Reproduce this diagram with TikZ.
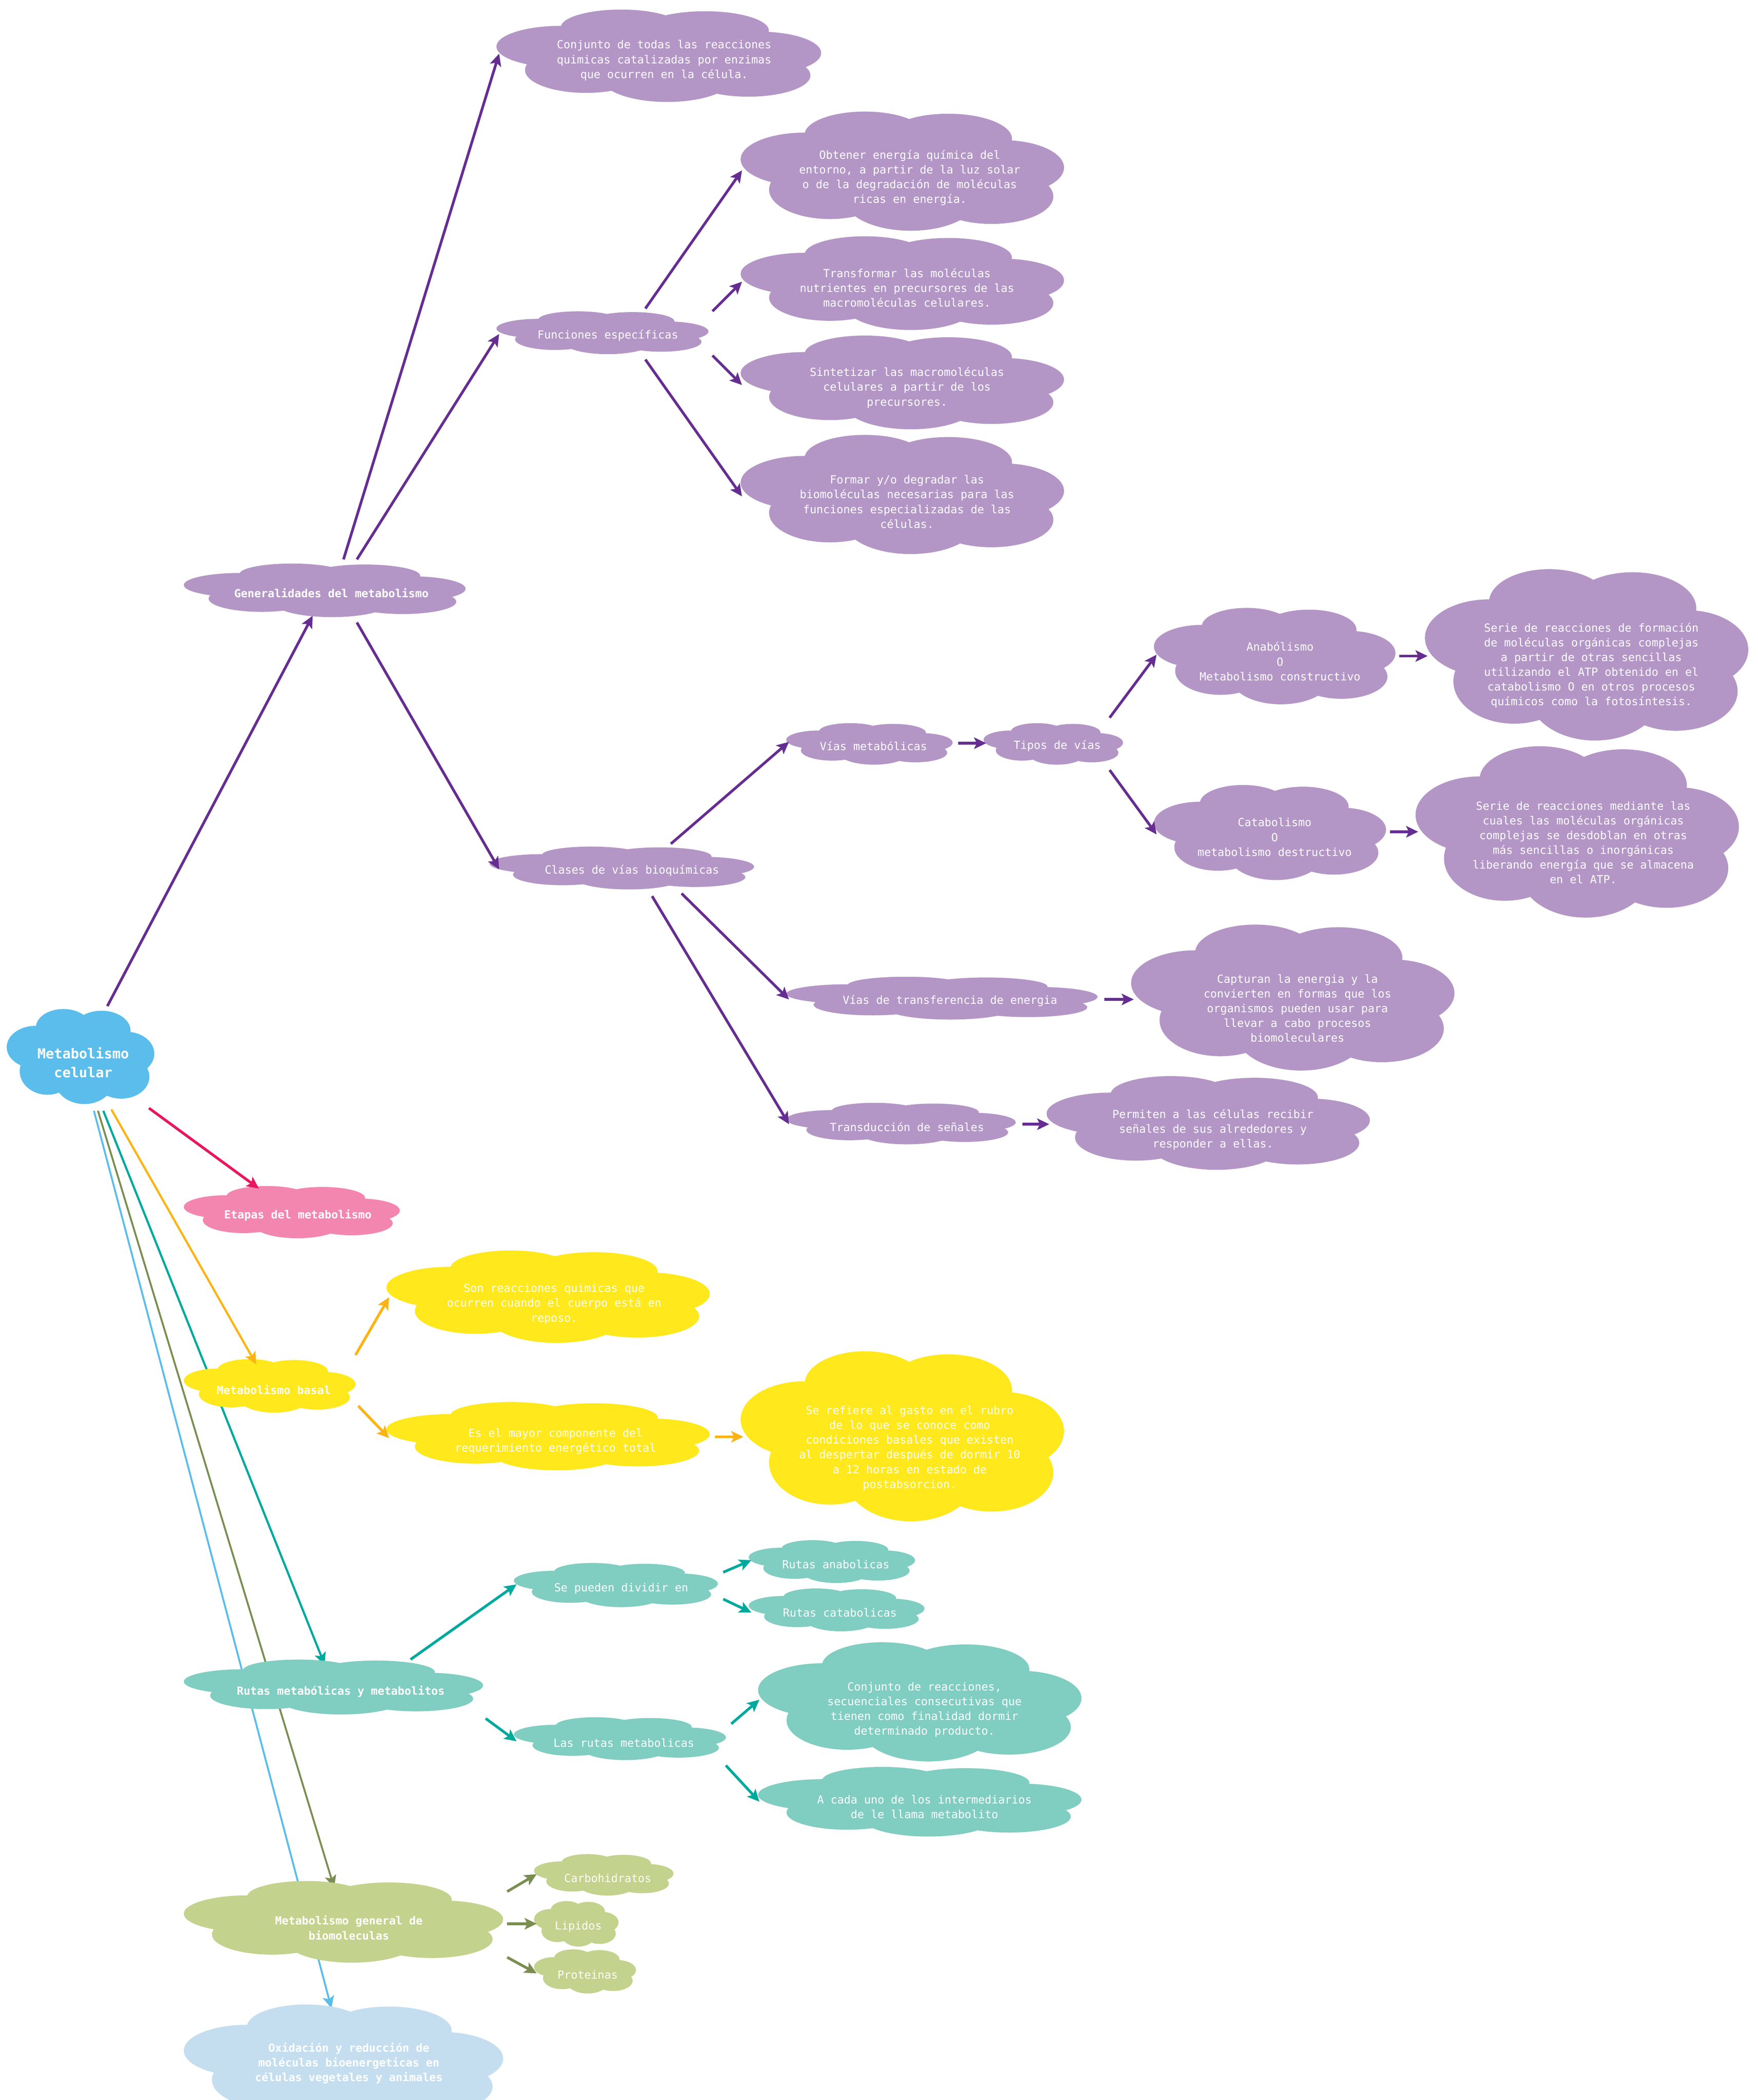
\documentclass[tikz,border=0pt]{standalone}
\usepackage{fontspec}
\newfontfamily\dmono{DejaVu Sans Mono}
\usetikzlibrary{arrows.meta}
\pgfdeclarelayer{bg}
\pgfdeclarelayer{back}
\pgfsetlayers{bg,back,main}
\definecolor{cblue}{HTML}{5BBDEB}
\definecolor{cpurple}{HTML}{B396C6}
\definecolor{apurple}{HTML}{662D91}
\definecolor{cpink}{HTML}{F386AE}
\definecolor{apink}{HTML}{E8175D}
\definecolor{cyellow}{HTML}{FFE81C}
\definecolor{ayellow}{HTML}{FBB415}
\definecolor{cteal}{HTML}{80CDC1}
\definecolor{ateal}{HTML}{00A99D}
\definecolor{cgreen}{HTML}{C3D28C}
\definecolor{agreen}{HTML}{7A8E51}
\definecolor{clblue}{HTML}{C4DEF0}
\newcommand\mycloud[5]{%
  \fill[#5, shift={(#1,#2)}, xscale=#3, yscale=#4]
    (-0.116,-0.305) ellipse [x radius=0.186, y radius=0.193]
    (0.142,-0.270) ellipse [x radius=0.197, y radius=0.210]
    (0.310,-0.029) ellipse [x radius=0.190, y radius=0.230]
    (0.276,0.213) ellipse [x radius=0.191, y radius=0.230]
    (0.026,0.236) ellipse [x radius=0.204, y radius=0.264]
    (-0.224,0.155) ellipse [x radius=0.188, y radius=0.247]
    (-0.302,-0.098) ellipse [x radius=0.198, y radius=0.224]
    (0,0) ellipse [x radius=0.32, y radius=0.32];
}
\newcommand\cnode[9][]{%
  \mycloud{#3}{#4}{#5}{#6}{#7}
  \node[txt,#1] (#2) at (#8) {#9};
}
\tikzset{
  txt/.style={font=\dmono\fontsize{8.3}{11}\selectfont, text=white, align=center, inner sep=0pt},
  bold/.style={font=\dmono\bfseries\fontsize{8.3}{11}\selectfont},
  big/.style={font=\dmono\bfseries\fontsize{10.3}{14}\selectfont},
  arr/.style={-{Stealth[length=9pt,width=8.5pt,inset=2pt]}, line width=2pt},
  thinarr/.style={-{Stealth[length=9pt,width=8.5pt,inset=2pt]}, line width=1.4pt},
}
\begin{document}
\begin{tikzpicture}[x=1pt,y=-1pt]
\useasboundingbox (0,0) rectangle (1310,1565.4);
\clip (0,0) rectangle (1310,1565.4);
\begin{pgfonlayer}{bg}
\fill[white] (0,0) rectangle (1310,1565.4);
\end{pgfonlayer}

\cnode[big]{celular}{60}{787.5}{110}{71}{cblue}{62,792}{Metabolismo\\celular}
\cnode[bold]{gen}{242}{440}{210}{40}{cpurple}{247,442}{Generalidades del metabolismo}
\cnode{conj}{491}{41.5}{242}{69}{cpurple}{495,45}{Conjunto de todas las reacciones\\quimicas catalizadas por enzimas\\que ocurren en la célula.}
\cnode{func}{449}{248}{158}{32}{cpurple}{453,250}{Funciones específicas}
\cnode{obt}{672.5}{127.5}{241}{89}{cpurple}{678,132.5}{Obtener energía química del\\entorno, a partir de la luz solar\\o de la degradación de moléculas\\ricas en energía.}
\cnode{trans}{672.5}{211}{241}{70}{cpurple}{676,214.5}{Transformar las moléculas\\nutrientes en precursores de las\\macromoléculas celulares.}
\cnode{sint}{672.5}{285}{241}{70}{cpurple}{676,289}{Sintetizar las macromoléculas\\celulares a partir de los\\precursores.}
\cnode{formar}{672.5}{368.5}{241}{89}{cpurple}{676,374}{Formar y/o degradar las\\biomoléculas necesarias para las\\funciones especializadas de las\\células.}
\cnode{clases}{463.5}{647}{197}{32}{cpurple}{471,649}{Clases de vías bioquímicas}
\cnode{vias}{648}{554.5}{124}{31}{cpurple}{651,556}{Vías metabólicas}
\cnode{tipos}{785}{554.5}{104}{31}{cpurple}{788,556}{Tipos de vías}
\cnode{anab}{950}{489}{180}{72}{cpurple}{954,493}{Anabólismo\\O\\Metabolismo constructivo}
\cnode{serieA}{1182.5}{488}{241}{128}{cpurple}{1186,496}{Serie de reacciones de formación\\de moléculas orgánicas complejas\\a partir de otras sencillas\\utilizando el ATP obtenido en el\\catabolismo O en otros procesos\\químicos como la fotosíntesis.}
\cnode{catab}{946.5}{620.5}{173}{71}{cpurple}{950,624}{Catabolismo\\O\\metabolismo destructivo}
\cnode{serieC}{1175.5}{620}{241}{128}{cpurple}{1180,628}{Serie de reacciones mediante las\\cuales las moléculas orgánicas\\complejas se desdoblan en otras\\más sencillas o inorgánicas\\liberando energía que se almacena\\en el ATP.}
\cnode{transf}{702}{744}{232}{32}{cpurple}{708,746}{Vías de transferencia de energia}
\cnode{capt}{963.5}{743.5}{241}{109}{cpurple}{967,751.5}{Capturan la energia y la\\convierten en formas que los\\organismos pueden usar para\\llevar a cabo procesos\\biomoleculares}
\cnode{transd}{671.5}{837.5}{171}{31}{cpurple}{676,840}{Transducción de señales}
\cnode{perm}{900.5}{837}{241}{70}{cpurple}{904,842}{Permiten a las células recibir\\señales de sus alrededores y\\responder a ellas.}
\cnode[bold]{etapas}{217.5}{903.5}{161}{39}{cpink}{222,906}{Etapas del metabolismo}
\cnode[bold]{basal}{201}{1033}{128}{40}{cyellow}{204,1036}{Metabolismo basal}
\cnode{son}{408.5}{966.5}{241}{69}{cyellow}{413,972}{Son reacciones quimicas que\\ocurren cuando el cuerpo está en\\reposo.}
\cnode{esel}{408.5}{1070.5}{241}{51}{cyellow}{414,1074.5}{Es el mayor componente del\\requerimiento energético total}
\cnode{sere}{672.5}{1070.5}{241}{127}{cyellow}{678,1079.5}{Se refiere al gasto en el rubro\\de lo que se conoce como\\condiciones basales que existen\\al despertar después de dormir 10\\a 12 horas en estado de\\postabsorcion.}
\cnode[bold]{rutas}{248.5}{1257.5}{223}{41}{cteal}{254,1261}{Rutas metabólicas y metabolitos}
\cnode{sepueden}{459}{1181.5}{152}{33}{cteal}{463,1184}{Se pueden dividir en}
\cnode{ranab}{620}{1164}{124}{32}{cteal}{623,1166}{Rutas anabolicas}
\cnode{rcatab}{623.5}{1200}{131}{32}{cteal}{626,1202}{Rutas catabolicas}
\cnode{lasrutas}{462}{1296}{158}{32}{cteal}{465,1299}{Las rutas metabolicas}
\cnode{conjr}{685.5}{1268.5}{241}{89}{cteal}{689,1274.5}{Conjunto de reacciones,\\secuenciales consecutivas que\\tienen como finalidad dormir\\determinado producto.}
\cnode{acada}{685.5}{1343}{241}{52}{cteal}{689,1347}{A cada uno de los intermediarios\\de le llama metabolito}
\cnode[bold]{mgen}{256}{1432.5}{238}{61}{cgreen}{260,1437}{Metabolismo general de\\biomoleculas}
\cnode{carb}{450}{1397.5}{104}{31}{cgreen}{453,1400}{Carbohidratos}
\cnode{lip}{429.5}{1434}{63}{34}{cgreen}{431,1436}{Lipidos}
\cnode{prot}{436}{1469.5}{76}{33}{cgreen}{438,1472}{Proteinas}
\cnode[bold]{oxid}{256}{1537}{238}{86}{clblue}{260,1538}{Oxidación y reducción de\\moléculas bioenergeticas en\\células vegetales y animales}

% purple connectors
\draw[arr, apurple] ([shift={(18,-42)}]celular.center) -- ([shift={(-14,17)}]gen.center);
\draw[arr, apurple] ([shift={(9,-25)}]gen.center) -- ([shift={(-123,-5)}]conj.center);
\draw[arr, apurple] ([shift={(19,-25)}]gen.center) -- ([shift={(-81,-1)}]func.center);
\draw[arr, apurple] ([shift={(19,22)}]gen.center) -- ([shift={(-99,-1)}]clases.center);
\draw[arr, apurple] ([shift={(28,-20)}]func.center) -- ([shift={(-125,-5.5)}]obt.center);
\draw[arr, apurple] ([shift={(78,-18)}]func.center) -- ([shift={(-123,-4.5)}]trans.center);
\draw[arr, apurple] ([shift={(78,15)}]func.center) -- ([shift={(-123,-2)}]sint.center);
\draw[arr, apurple] ([shift={(28,18)}]func.center) -- ([shift={(-123,-4)}]formar.center);
\draw[arr, apurple] ([shift={(29,-20)}]clases.center) -- ([shift={(-63,-3)}]vias.center);
\draw[arr, apurple] ([shift={(37,17)}]clases.center) -- ([shift={(-120,-1)}]transf.center);
\draw[arr, apurple] ([shift={(15,19)}]clases.center) -- ([shift={(-88,-2)}]transd.center);
\draw[arr, apurple] ([shift={(63,-2)}]vias.center) -- ([shift={(-53,-2)}]tipos.center);
\draw[arr, apurple] ([shift={(39,-21)}]tipos.center) -- ([shift={(-92,-5)}]anab.center);
\draw[arr, apurple] ([shift={(39,18)}]tipos.center) -- ([shift={(-88,-2)}]catab.center);
\draw[arr, apurple] ([shift={(89,-4)}]anab.center) -- ([shift={(-122,-7)}]serieA.center);
\draw[arr, apurple] ([shift={(86,-4)}]catab.center) -- ([shift={(-123,-8)}]serieC.center);
\draw[arr, apurple] ([shift={(115,-1)}]transf.center) -- ([shift={(-122,-6.5)}]capt.center);
\draw[arr, apurple] ([shift={(86,-2)}]transd.center) -- ([shift={(-122,-4)}]perm.center);
% pink
\draw[arr, apink] ([shift={(49,34)}]celular.center) -- ([shift={(-29,-20)}]etapas.center);
% yellow
\draw[thinarr, ayellow, line width=1.6pt] ([shift={(21,35)}]celular.center) -- ([shift={(-13,-19)}]basal.center);
\draw[arr, ayellow] ([shift={(61,-26)}]basal.center) -- ([shift={(-123,-5)}]son.center);
\draw[arr, ayellow] ([shift={(63,12)}]basal.center) -- ([shift={(-124,-2.5)}]esel.center);
\draw[arr, ayellow] ([shift={(119,-3.5)}]esel.center) -- ([shift={(-124,-8.5)}]sere.center);
% long lines behind clouds
\begin{pgfonlayer}{back}
\draw[thinarr, ateal, line width=1.6pt] ([shift={(15,36)}]celular.center) -- ([shift={(-12,-20)}]rutas.center);
\draw[thinarr, agreen] ([shift={(11,36)}]celular.center) -- ([shift={(-11,-30)}]mgen.center);
\draw[thinarr, cblue] ([shift={(8,36)}]celular.center) -- ([shift={(-13,-41)}]oxid.center);
\end{pgfonlayer}
% teal
\draw[arr, ateal] ([shift={(52,-24)}]rutas.center) -- ([shift={(-78,-3)}]sepueden.center);
\draw[arr, ateal] ([shift={(108,20)}]rutas.center) -- ([shift={(-80,-1)}]lasrutas.center);
\draw[arr, ateal] ([shift={(76,-12)}]sepueden.center) -- ([shift={(-63,-3)}]ranab.center);
\draw[arr, ateal] ([shift={(76,8)}]sepueden.center) -- ([shift={(-66,0)}]rcatab.center);
\draw[arr, ateal] ([shift={(80,-14)}]lasrutas.center) -- ([shift={(-123,-7.5)}]conjr.center);
\draw[arr, ateal] ([shift={(76,17)}]lasrutas.center) -- ([shift={(-123,-4)}]acada.center);
% green
\draw[arr, agreen] ([shift={(118,-27)}]mgen.center) -- ([shift={(-53,-3)}]carb.center);
\draw[arr, agreen] ([shift={(118,-3)}]mgen.center) -- ([shift={(-31,-2)}]lip.center);
\draw[arr, agreen] ([shift={(118,22)}]mgen.center) -- ([shift={(-38,-1)}]prot.center);
\end{tikzpicture}
\end{document}
